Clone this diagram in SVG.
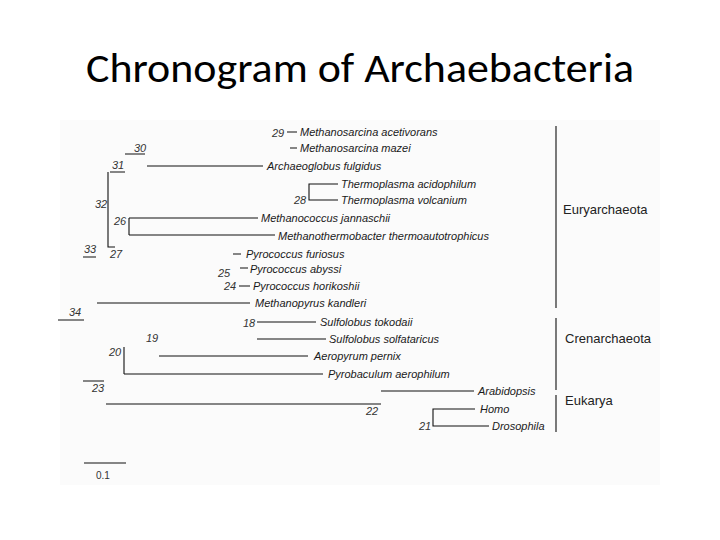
<svg xmlns="http://www.w3.org/2000/svg" width="720" height="540" viewBox="0 0 720 540">
<style>
.l{stroke:#111;stroke-width:1.1;fill:none}
.t{font-family:"Liberation Sans",Arial,sans-serif;font-style:italic;font-size:11px;fill:#1a1a1a}
.n{font-family:"Liberation Sans",Arial,sans-serif;font-style:italic;font-size:11px;fill:#333}
.g{font-family:"Liberation Sans",Arial,sans-serif;font-size:13px;fill:#222}
</style>
<rect width="720" height="540" fill="#fff"/>
<rect x="60" y="120" width="600" height="365" fill="#fbfbfb"/>
<text x="360" y="82" text-anchor="middle" font-family="Carlito,'Open Sans','Liberation Sans',sans-serif" font-size="40" fill="#000" textLength="548" lengthAdjust="spacingAndGlyphs">Chronogram of Archaebacteria</text>
<g id="connectors">
<path class="l" d="M287 132H297M290 148H297M125 154H145M110 172H125M147 166H263
M338 184H309V200H338M108 172V247H115M129 218V235M129 218H258M129 235H275M83 257H96
M233 254H241M240 268H248M239 286H250M97 303H250M58 320H84
M257 322H316M257 339H326M124 347V374M159 356H308M124 374H323M83 381H104
M381 391H474M106 404H381M475 409H433V426H489M84 463H126
M556 126V308M556 318V390M556 395V432"/>
</g>
<g id="labels">
<text class="n" x="272" y="137">29</text>
<text class="t" x="300" y="136">Methanosarcina acetivorans</text>
<text class="t" x="300" y="152">Methanosarcina mazei</text>
<text class="n" x="134" y="152">30</text>
<text class="n" x="112" y="169">31</text>
<text class="t" x="267" y="170">Archaeoglobus fulgidus</text>
<text class="t" x="341" y="188">Thermoplasma acidophilum</text>
<text class="t" x="341" y="204">Thermoplasma volcanium</text>
<text class="n" x="294" y="204">28</text>
<text class="n" x="95" y="208">32</text>
<text class="n" x="114" y="225">26</text>
<text class="t" x="261" y="222">Methanococcus jannaschii</text>
<text class="t" x="278" y="240">Methanothermobacter thermoautotrophicus</text>
<text class="n" x="84" y="253">33</text>
<text class="n" x="110" y="258">27</text>
<text class="t" x="246" y="258">Pyrococcus furiosus</text>
<text class="n" x="218" y="277">25</text>
<text class="t" x="250" y="273">Pyrococcus abyssi</text>
<text class="n" x="224" y="290">24</text>
<text class="t" x="253" y="290">Pyrococcus horikoshii</text>
<text class="t" x="255" y="307">Methanopyrus kandleri</text>
<text class="n" x="69" y="316">34</text>
<text class="n" x="243" y="327">18</text>
<text class="t" x="320" y="326">Sulfolobus tokodaii</text>
<text class="n" x="146" y="342">19</text>
<text class="t" x="329" y="343">Sulfolobus solfataricus</text>
<text class="n" x="109" y="356">20</text>
<text class="t" x="314" y="360">Aeropyrum pernix</text>
<text class="t" x="328" y="378">Pyrobaculum aerophilum</text>
<text class="n" x="92" y="392">23</text>
<text class="t" x="478" y="395">Arabidopsis</text>
<text class="n" x="366" y="415">22</text>
<text class="t" x="480" y="413">Homo</text>
<text class="t" x="492" y="430">Drosophila</text>
<text class="n" x="419" y="430">21</text>
<text x="96" y="479" font-family="Liberation Sans,sans-serif" font-size="10" fill="#333">0.1</text>
<text class="g" x="563" y="214">Euryarchaeota</text>
<text class="g" x="565" y="343">Crenarchaeota</text>
<text class="g" x="565" y="405">Eukarya</text>
</g>
</svg>
